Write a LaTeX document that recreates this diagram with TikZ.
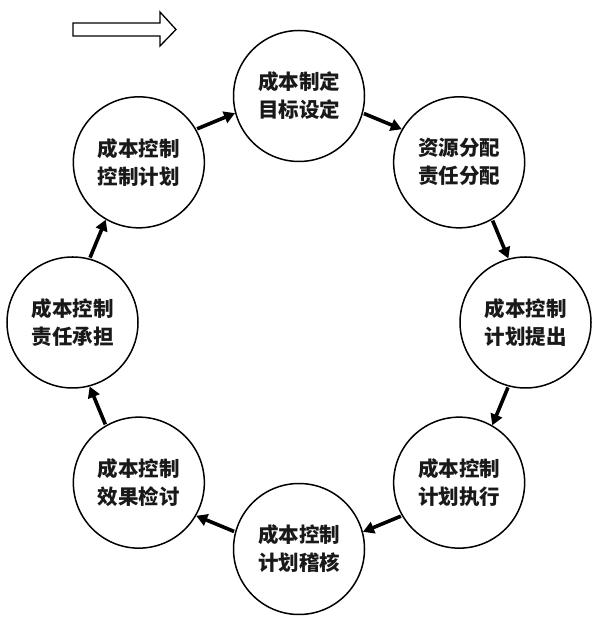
\documentclass[tikz,border=0pt]{standalone}
\usepackage{fontspec}
\newfontfamily\cjk{Noto Sans CJK SC}
\usetikzlibrary{arrows.meta}
\tikzset{
  stage/.style={circle, draw=black, line width=1.5pt, minimum size=131pt, inner sep=0pt,
    align=center, text=black!90, font=\cjk\bfseries\fontsize{20.5}{28}\selectfont},
  arr/.style={line width=3.6pt, -{Triangle[length=11pt,width=12pt]}, shorten <=1pt},
  hollow/.style={draw=black, line width=1.3pt, fill=white, line join=miter}
}
\begin{document}
\begin{tikzpicture}
\useasboundingbox (0,0) rectangle (600pt,623pt);
\fill[white] (0,0) rectangle (600pt,623pt);
% hollow arrow
\draw[hollow] (73pt,600pt) -- (160pt,600pt) -- (160pt,611pt) -- (176pt,593.5pt)
  -- (160pt,577pt) -- (160pt,587pt) -- (73pt,587pt) -- cycle;
\begin{scope}[shift={(299pt,300.5pt)}]
  \node[stage] (n1) at (90:226.5pt)  {成本制定\\目标设定};
  \node[stage] (n2) at (45:226.5pt)  {资源分配\\责任分配};
  \node[stage] (n3) at (0:226.5pt)   {成本控制\\计划提出};
  \node[stage] (n4) at (-45:226.5pt) {成本控制\\计划执行};
  \node[stage] (n5) at (-90:226.5pt) {成本控制\\计划稽核};
  \node[stage] (n6) at (-135:226.5pt){成本控制\\效果检讨};
  \node[stage] (n7) at (180:226.5pt) {成本控制\\责任承担};
  \node[stage] (n8) at (135:226.5pt) {成本控制\\控制计划};
\end{scope}
\draw[arr] (n1.-15)  -- (n2.150);
\draw[arr] (n2.-60)  -- (n3.105);
\draw[arr] (n3.-105) -- (n4.60);
\draw[arr] (n4.-150) -- (n5.15);
\draw[arr] (n5.165)  -- (n6.-30);
\draw[arr] (n6.120)  -- (n7.-75);
\draw[arr] (n7.75)   -- (n8.-120);
\draw[arr] (n8.30)   -- (n1.195);
\end{tikzpicture}
\end{document}
